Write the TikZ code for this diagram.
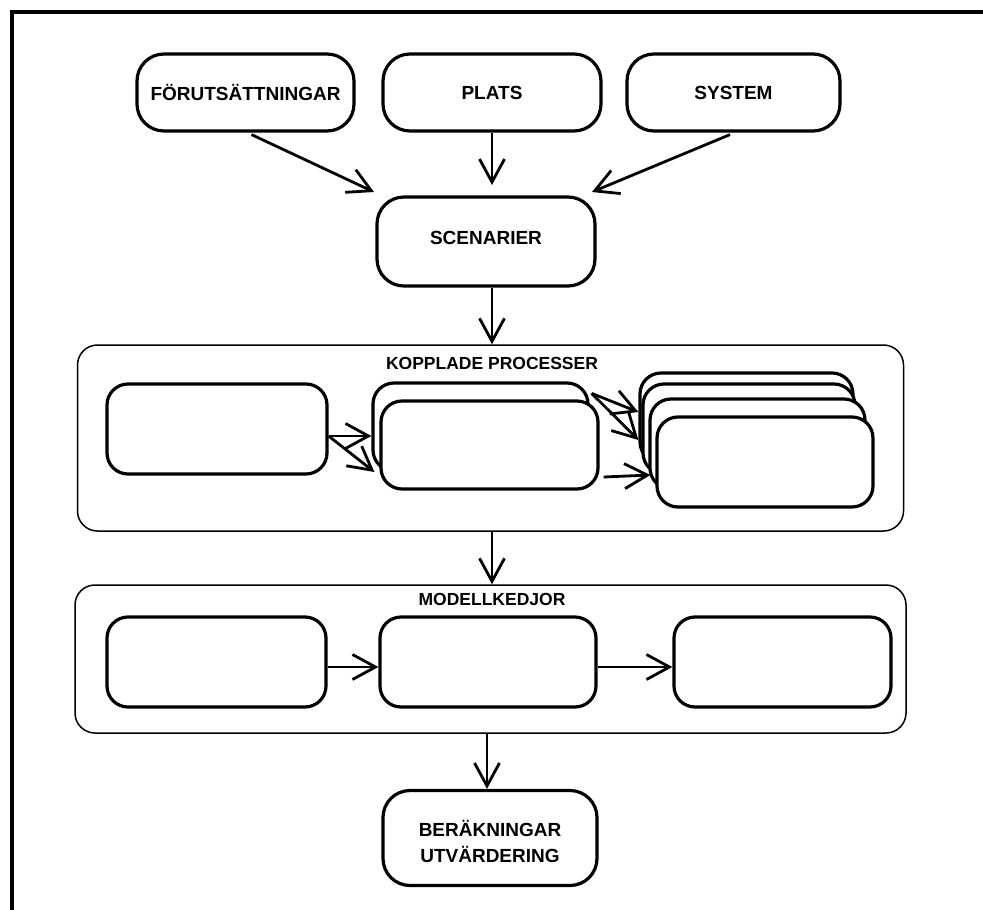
\documentclass[tikz,border=0pt]{standalone}
\usepackage{fontspec}
\setmainfont{Liberation Sans}
\usetikzlibrary{arrows.meta,calc}
\begin{document}
\begin{tikzpicture}[x=1pt,y=-1pt,
  box/.style={draw, line width=3.2pt, rounded corners=21pt, fill=white, inner sep=0pt},
  topbox/.style={box, rounded corners=27pt},
  outer/.style={draw, line width=1.5pt, rounded corners=20pt, inner sep=0pt},
  lbl/.style={font=\fontsize{19}{26}\selectfont\bfseries, align=center},
  ttl/.style={font=\fontsize{17.5}{22}\selectfont\bfseries},
  arr/.style={line width=2.8pt, -{Straight Barb[length=23pt,width=25pt,line width=2.8pt]}}]
\useasboundingbox (0,0) rectangle (983,910);
% frame
\draw[line width=3.5pt] (12,910) -- (12,12) -- (983,12);
% top boxes
\node[topbox, minimum width=217pt, minimum height=77pt] (fo) at (245.5,92.5) {};
\node[lbl] (fot) at (fo) {FÖRUTSÄTTNINGAR};
\node[topbox, minimum width=218pt, minimum height=77pt] (pl) at (492,92.5) {};
\node[lbl] (plt) at (pl) {PLATS};
\node[topbox, minimum width=213pt, minimum height=77pt] (sy) at (733.5,92.5) {};
\node[lbl] (syt) at (sy) {SYSTEM};
% scenarier
\node[topbox, minimum width=218pt, minimum height=89pt] (sc) at (486,241.5) {};
\node[lbl] (sct) at (486,238) {SCENARIER};
\coordinate (foend) at (374,192);
\coordinate (plend) at (492,185);
\coordinate (syend) at (592,192);
\draw[arr] (fo.south) ++(6,2) coordinate (fost) -- (foend);
\draw[arr] (pl.south) -- (plend);
\draw[arr] (sy.south) ++(-3.5,2) coordinate (syst) -- (syend);
% kopplade processer
\node[outer, minimum width=826pt, minimum height=186pt] (kp) at (490.5,438) {};
\node[ttl] (kpt) at (492,363) {KOPPLADE PROCESSER};
\draw[arr] (sc.south -| kpt) -- (kp.north -| kpt);
\node[box, minimum width=220pt, minimum height=90pt] (lb) at (217,429) {};
\node[box, minimum width=215pt, minimum height=88pt] (mbb) at (480.5,427) {};
\node[box, minimum width=217pt, minimum height=88pt] (mbf) at (489.5,445) {};
\node[box, minimum width=213pt, minimum height=90pt] (sa) at (746.5,418) {};
\node[box, minimum width=212pt, minimum height=90pt] (sb) at (749,429) {};
\node[box, minimum width=215pt, minimum height=90pt] (sc3) at (757.5,444) {};
\node[box, minimum width=216pt, minimum height=90pt] (sd) at (765,462) {};
\coordinate (lbo) at ($(lb.east)+(0,7)$);
\draw[arr] (lbo) -- (lbo -| mbb.west);
\draw[arr] (lbo) -- ($(mbf.west)+(-5,27)$);
\coordinate (mbo) at ($(mbb.north east)+(2,12)$);
\draw[arr] (mbo) -- ($(sa.west)+(0,-6)$);
\draw[arr] (mbo) -- ($(sa.west)+(0,22)$);
\draw[arr] ($(mbf.east)+(4,32)$) -- ($(sc3.west)+(2,31)$);
% modellkedjor
\node[outer, minimum width=831pt, minimum height=148pt] (mk) at (490.5,659) {};
\node[ttl] (mkt) at (492,599) {MODELLKEDJOR};
\draw[arr] (kp.south -| kpt) -- (mk.north -| kpt);
\node[box, minimum width=219pt, minimum height=90pt] (m1) at (216.5,662) {};
\node[box, minimum width=216pt, minimum height=90pt] (m2) at (488,662) {};
\node[box, minimum width=217pt, minimum height=90pt] (m3) at (782.5,662) {};
\draw[arr] ($(m1.east)+(0,5)$) -- ($(m2.west)+(0,5)$);
\draw[arr] ($(m2.east)+(0,5)$) -- ($(m3.west)+(0,5)$);
% berakningar
\node[topbox, minimum width=214pt, minimum height=95pt] (be) at (490,838) {};
\node[lbl] (bet) at (490,841) {BERÄKNINGAR\\UTVÄRDERING};
\draw[arr] (mk.south -| be) ++(-3,0) coordinate (mks) -- (mks |- be.north);
\end{tikzpicture}
\end{document}
